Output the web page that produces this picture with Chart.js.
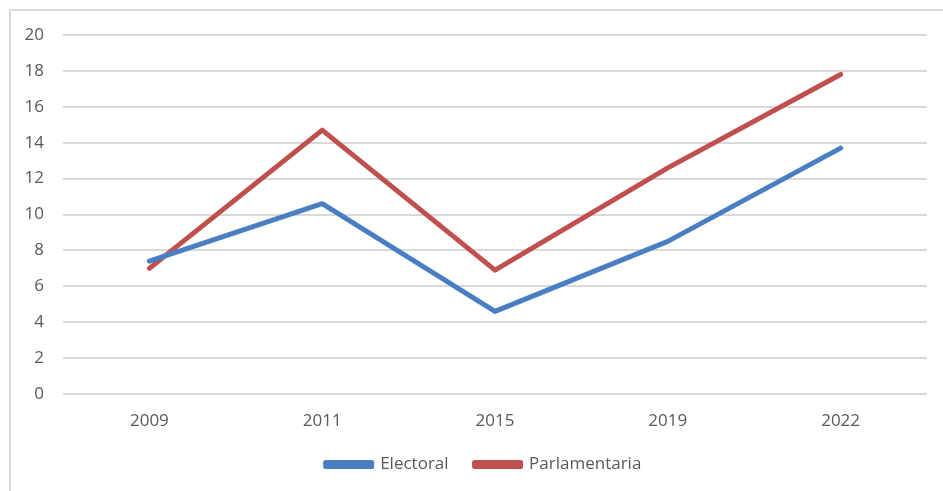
<!DOCTYPE html>
<html>
<head>
<meta charset="utf-8">
<script src="https://cdn.jsdelivr.net/npm/chart.js@4.4.1/dist/chart.umd.min.js"></script>
<style>
  html, body { margin: 0; padding: 0; background: #fff; }
  #wrap { position: relative; width: 943px; height: 491px; overflow: hidden; }
  #frame { position: absolute; left: 9px; top: 9px; width: 960px; height: 500px;
           border: 2px solid #d9d9d9; box-sizing: border-box; }
  #chart { position: absolute; left: 0; top: 0; }
</style>
</head>
<body>
<div id="wrap">
  <div id="frame"></div>
  <canvas id="chart" width="943" height="491"></canvas>
</div>
<script>
const years = ['2009', '2011', '2015', '2019', '2022'];
const electoral = [7.4, 10.6, 4.6, 8.5, 13.7];
const parlamentaria = [7.0, 14.7, 6.9, 12.6, 17.8];
const yTicks = [0, 2, 4, 6, 8, 10, 12, 14, 16, 18, 20];

const textColor = '#595959';
const gridColor = '#d9d9d9';
const font = { family: '"Open Sans", "Liberation Sans", sans-serif', size: 17 };

// nudge the legend a little right of the padded centre
const legendShift = {
    id: 'legendShift',
    afterLayout: (chart) => {
        chart.legend.left += 14;
        chart.legend.right += 14;
    },
};

const ctx = document.getElementById('chart').getContext('2d');

window.lineChart = new Chart(ctx, {
    type: 'line',
    data: {
        labels: years,
        datasets: [
            {
                label: 'Electoral',
                data: electoral,
                borderColor: '#4a7ec2',
                backgroundColor: '#4a7ec2',
                borderWidth: 5,
                pointRadius: 0,
                borderCapStyle: 'round',
                borderJoinStyle: 'round',
            },
            {
                label: 'Parlamentaria',
                data: parlamentaria,
                borderColor: '#c0504d',
                backgroundColor: '#c0504d',
                borderWidth: 5,
                pointRadius: 0,
                borderCapStyle: 'round',
                borderJoinStyle: 'round',
            },
        ],
    },
    plugins: [legendShift],
    options: {
        responsive: false,
        animation: false,
        layout: { padding: { left: 12, right: 16, top: 35, bottom: 8 } },
        plugins: {
            tooltip: { enabled: false },
            legend: {
                position: 'bottom',
                labels: {
                    color: textColor,
                    font: font,
                    boxWidth: 46,
                    boxHeight: 4,
                    padding: 26,
                },
            },
        },
        scales: {
            x: {
                offset: true,
                grid: { display: false, drawTicks: false },
                border: { display: false },
                ticks: { color: textColor, font: font, padding: 17, maxRotation: 0 },
                afterFit: (scale) => { scale.height = 36; },
            },
            y: {
                min: 0,
                max: 20,
                afterBuildTicks: (scale) => { scale.ticks = yTicks.map((v) => ({ value: v })); },
                grid: { color: gridColor, lineWidth: 2, drawTicks: false },
                border: { display: false },
                ticks: { color: textColor, font: font, padding: 19 },
                afterFit: (scale) => { scale.width = 51; },
            },
        },
    },
});
</script>
</body>
</html>
